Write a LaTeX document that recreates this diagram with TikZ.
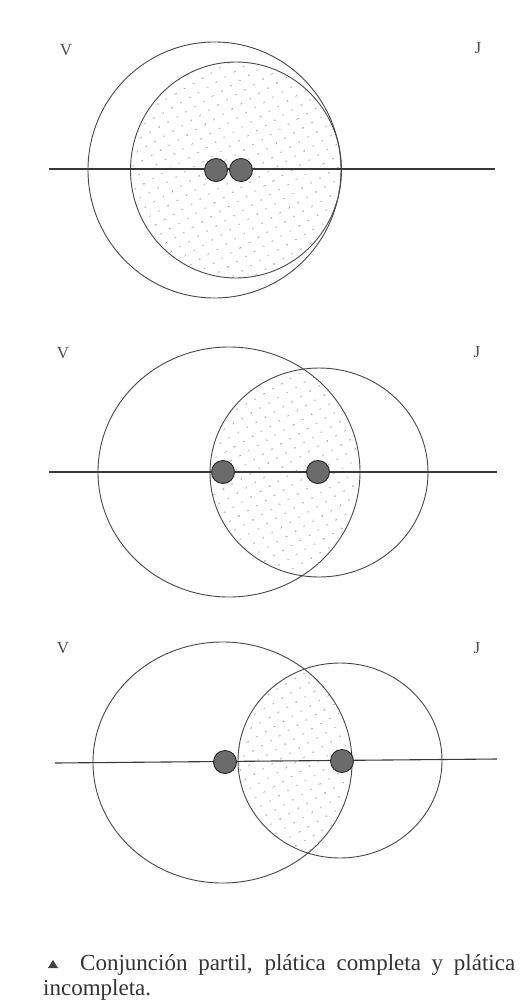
\documentclass[tikz,border=0pt]{standalone}
\usepackage{fontspec}
\setmainfont{Liberation Serif}
\usetikzlibrary{patterns.meta,calc}
\begin{document}
\begin{tikzpicture}[x=1pt,y=-1pt,
  orb/.style={draw=black!72, line width=0.9pt},
  axis/.style={draw=black!78, line width=1.1pt},
  planet/.style={circle, draw=black!85, line width=0.9pt, fill=black!58, minimum size=23pt, inner sep=0pt},
  dotfill/.style={pattern={Dots[distance=10.5pt, radius=0.9pt, angle=30]}, pattern color=black!40},
  lbl/.style={font=\fontsize{17}{17}\selectfont, text=black!70, inner sep=0pt},
  capt/.style={font=\fontsize{23}{25}\selectfont, text=black!80, inner sep=0pt, anchor=base west}]
\fill[white] (0,0) rectangle (530,1003);
\useasboundingbox (0,0) rectangle (530,1003);

% ---------- Panel 1 ----------
\coordinate (a1) at (214.5,170);
\coordinate (b1) at (236,170);
\fill[dotfill] (b1) ellipse (105.5 and 108);
\draw[orb] (a1) ellipse (126.5 and 128);
\draw[orb] (b1) ellipse (105.5 and 108);
\coordinate (l1s) at (49,169);
\coordinate (l1e) at (495,169);
\draw[axis] (l1s) -- (l1e);
\node[planet] (p1a) at (216,170) {};
\node[planet] (p1b) at (241,170) {};
\node[lbl] (v1) at (66,50) {V};
\node[lbl] (j1) at (478,48) {J};

% ---------- Panel 2 ----------
\coordinate (a2) at (229,472);
\coordinate (b2) at (319,472.5);
\begin{scope}
  \clip (a2) ellipse (131 and 125);
  \fill[dotfill] (b2) ellipse (109 and 104.5);
\end{scope}
\draw[orb] (a2) ellipse (131 and 125);
\draw[orb] (b2) ellipse (109 and 104.5);
\coordinate (l2s) at (49,472);
\coordinate (l2e) at (497,472);
\draw[axis] (l2s) -- (l2e);
\node[planet] (p2a) at (223,472) {};
\node[planet] (p2b) at (318,472) {};
\node[lbl] (v2) at (63,353) {V};
\node[lbl] (j2) at (477,352) {J};

% ---------- Panel 3 ----------
\coordinate (a3) at (222.5,762.5);
\coordinate (b3) at (340,760.5);
\begin{scope}
  \clip (a3) ellipse (129.5 and 120.5);
  \fill[dotfill] (b3) ellipse (102 and 97.5);
\end{scope}
\draw[orb] (a3) ellipse (129.5 and 120.5);
\draw[orb] (b3) ellipse (102 and 97.5);
\coordinate (l3s) at (55,763);
\coordinate (l3e) at (497,759);
\draw[axis] (l3s) -- (l3e);
\node[planet] (p3a) at (225,762) {};
\node[planet] (p3b) at (342,761) {};
\node[lbl] (v3) at (63,648) {V};
\node[lbl] (j3) at (477,648) {J};

% ---------- Caption ----------
\coordinate (tri) at (53,965);
\fill[black!75] ($(tri)+(-5,3)$) -- ($(tri)+(5,3)$) -- ($(tri)+(0,-5)$) -- cycle;
\node[capt] (c1) at (80,970) {\makebox[435pt][s]{Conjunción partil, plática completa y plática}};
\node[capt] (c2) at (43,995) {incompleta.};
\end{tikzpicture}
\end{document}
